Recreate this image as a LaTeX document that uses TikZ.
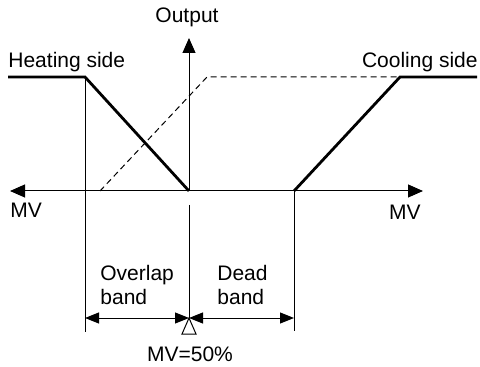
\documentclass[tikz,border=0pt]{standalone}
\usepackage{fontspec}
\setmainfont{Liberation Sans}
\usetikzlibrary{positioning, arrows.meta, calc}

\begin{document}
\begin{tikzpicture}
    [
        x=0.5pt, y=-0.5pt,
        axis/.style={-{Triangle[length=7.5pt, width=6.5pt]}, line width=0.5pt},
        thin line/.style={line width=0.5pt},
        curve/.style={line width=1.4pt, line join=miter},
        ghost/.style={dashed, dash pattern=on 3pt off 2pt, line width=0.5pt},
        dim/.style={{Triangle[length=7pt, width=5.5pt]}-{Triangle[length=7pt, width=5.5pt]}, line width=0.5pt},
        label/.style={font=\fontsize{10.5}{12}\selectfont, inner sep=0pt, align=left}
    ]
        \useasboundingbox (0,0) rectangle (480,367);
        % =========================================================================
        % COORDINATES
        % =========================================================================
        \coordinate (origin) at (189,191);
        \coordinate (axleft) at (10,191);
        \coordinate (axright) at (423,191);
        \coordinate (axtop) at (189,38);
        % --- heating / cooling knees ---
        \coordinate (heatstart) at (8,77);
        \coordinate (heatknee) at (85,77);
        \coordinate (coolzero) at (294,191);
        \coordinate (coolknee) at (400,77);
        \coordinate (coolend) at (477,77);
        % --- dashed (overlap) curve ---
        \coordinate (dashzero) at (100,191);
        \coordinate (dashknee) at (207,77);
        % --- band limits ---
        \coordinate (overlapbot) at (85,332);
        \coordinate (deadbot) at (294,331);
        \coordinate (midtop) at (189,205);
        \coordinate (mid) at (189,318);
        \coordinate (overlapdim) at (85,318);
        \coordinate (deaddim) at (294,318);

        % =========================================================================
        % NODES
        % =========================================================================
        \node [label, anchor=south] (output) at (187,27) {Output};
        \node [label, anchor=base west] (heating) at (8,68) {Heating side};
        \node [label, anchor=base east] (cooling) at (478,68) {Cooling side};
        \node [label, anchor=base west] (mvleft) at (10,218) {MV};
        \node [label, anchor=base east] (mvright) at (421,220) {MV};
        \node [label, anchor=west] (overlap) at (100,285) {Overlap\\band};
        \node [label, anchor=west] (dead) at (217,285) {Dead\\band};
        \node [label, anchor=base] (mvhalf) at (190,361) {MV=50\%};

        % =========================================================================
        % PATHS
        % =========================================================================
        % --- AXES ---
        \draw [axis] (origin) -- (axleft);
        \draw [axis] (origin) -- (axright);
        \draw [axis] (origin) -- (axtop);
        % --- OUTPUT CURVES ---
        \draw [curve] (heatstart) -- (heatknee) -- (origin);
        \draw [curve] (coolzero) -- (coolknee) -- (coolend);
        \draw [ghost] (dashzero) -- (dashknee) -- (coolknee);
        % --- BAND LIMITS ---
        \draw [thin line] (heatknee) -- (overlapbot);
        \draw [thin line] (coolzero) -- (deadbot);
        \draw [thin line] (midtop) -- (mid);
        \draw [dim] (overlapdim) -- (mid);
        \draw [dim] (mid) -- (deaddim);
        \draw [thin line] (mid) -- ++(-7,16) -- ++(14,0) -- cycle;

    \end{tikzpicture}
\end{document}
